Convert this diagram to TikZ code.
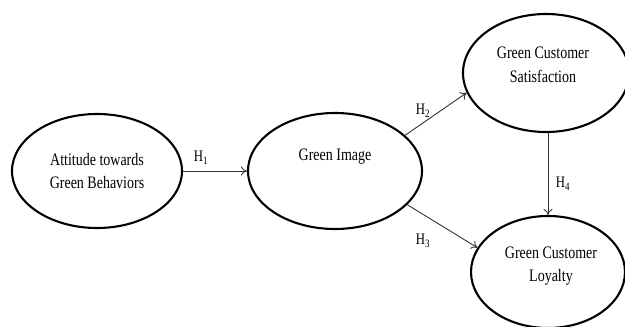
\documentclass[tikz,border=0pt]{standalone}
\usepackage{fontspec}
\setmainfont{Liberation Serif}[FakeStretch=0.8]
\usetikzlibrary{shapes.geometric,arrows.meta}
\begin{document}
\begin{tikzpicture}[x=1pt,y=-1pt,
  construct/.style={draw=black, line width=2.1pt, ellipse, inner sep=0pt},
  lbl/.style={align=center, font=\fontsize{17.5}{23.5}\selectfont, inner sep=0pt},
  hyp/.style={font=\fontsize{16}{17}\selectfont, inner sep=0pt},
  arr/.style={draw=black!80, line width=0.9pt, -{To[length=6pt,width=9pt]}}]
  \useasboundingbox (0,0) rectangle (625,327);

  % constructs
  \node[construct, minimum width=170pt, minimum height=114pt] (att) at (97,171) {};
  \node[construct, minimum width=174pt, minimum height=116pt] (gi)  at (335,171) {};
  \node[construct, minimum width=166pt, minimum height=118pt] (sat) at (546,73) {};
  \node[construct, minimum width=154pt, minimum height=112pt] (loy) at (548,272) {};

  % construct names
  \node[lbl] (atttxt) at (97,171) {Attitude towards\\Green Behaviors};
  \node[lbl] (gitxt)  at (335,157) {Green Image};
  \node[lbl] (sattxt) at (543,65) {Green Customer\\Satisfaction};
  \node[lbl] (loytxt) at (551,266) {Green Customer\\Loyalty};

  % hypothesised paths
  \draw[arr] (att.east) -- (gi.west);
  \draw[arr] (gi.27) -- (sat.194);
  \draw[arr] (gi.-25) -- (loy.161);
  \draw[arr] (loy.north |- sat.south) -- (loy.north);

  % path labels
  \node[hyp] (h1) at (201,158) {H\textsubscript{1}};
  \node[hyp] (h2) at (423,111) {H\textsubscript{2}};
  \node[hyp] (h3) at (423,241) {H\textsubscript{3}};
  \node[hyp] (h4) at (563,184) {H\textsubscript{4}};
\end{tikzpicture}
\end{document}
